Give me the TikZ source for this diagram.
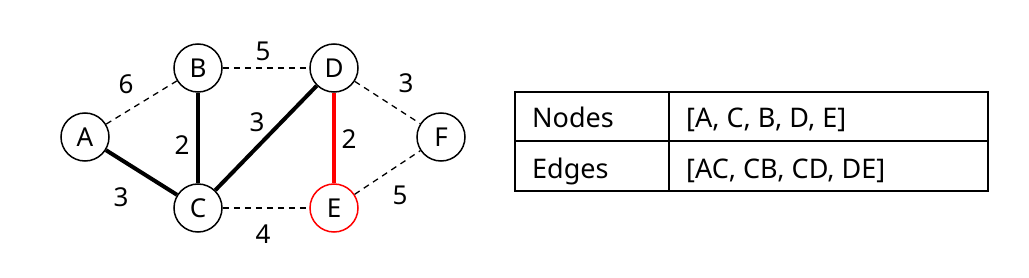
\documentclass[tikz,border=0pt]{standalone}
\usepackage{fontspec}
\setmainfont{Noto Sans}
\begin{document}
\begin{tikzpicture}[x=1pt,y=-1pt,
  vert/.style={circle,draw=black,line width=1.5pt,minimum size=48pt,inner sep=0pt,font=\fontsize{26}{26}\selectfont},
  lbl/.style={font=\fontsize{26}{26}\selectfont,inner sep=0pt},
  tree/.style={line width=4pt,black},
  nontree/.style={line width=1.3pt,dash pattern=on 6pt off 5pt},
  newedge/.style={line width=4pt,red},
  cell/.style={font=\fontsize{27}{27}\selectfont,anchor=base west,inner sep=0pt}]
\useasboundingbox (0,0) rectangle (1029,278);
\node[vert] (A) at (85,137) {A};
\node[vert] (B) at (198,68) {B};
\node[vert] (D) at (334,68) {D};
\node[vert] (F) at (441,137) {F};
\node[vert] (C) at (198,208) {C};
\node[vert,draw=red] (E) at (334,208) {E};
\draw[nontree] (A) -- (B);
\draw[nontree] (B) -- (D);
\draw[nontree] (D) -- (F);
\draw[nontree] (E) -- (F);
\draw[nontree] (C) -- (E);
\draw[tree] (A) -- (C);
\draw[tree] (B) -- (C);
\draw[tree] (C) -- (D);
\draw[newedge] (D) -- (E);
\node[lbl] (l1) at (126,84) {6};
\node[lbl] (l2) at (263,51) {5};
\node[lbl] (l3) at (406,83) {3};
\node[lbl] (l4) at (257,122) {3};
\node[lbl] (l5) at (182,145) {2};
\node[lbl] (l6) at (349,139) {2};
\node[lbl] (l7) at (121,197) {3};
\node[lbl] (l8) at (263,234) {4};
\node[lbl] (l9) at (400,195) {5};
% table
\draw[line width=1.5pt] (515,92) rectangle (988,191);
\draw[line width=1.5pt] (515,141) -- (988,141);
\draw[line width=1.5pt] (669,92) -- (669,191);
\node[cell] (n1) at (532,128) {Nodes};
\node[cell] (n2) at (686,128) {[A, C, B, D, E]};
\node[cell] (e1) at (532,178) {Edges};
\node[cell] (e2) at (686,178) {[AC, CB, CD, DE]};
\end{tikzpicture}
\end{document}
